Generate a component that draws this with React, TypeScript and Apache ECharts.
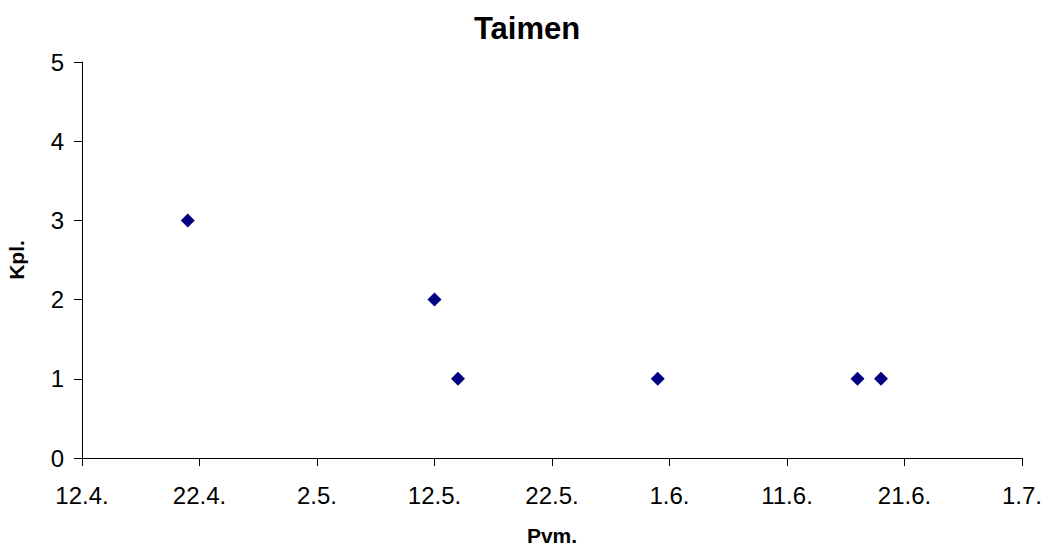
import React, { useEffect, useRef } from "react";
import * as echarts from "echarts";

// Taimen catches per date
const seasonStart = "2009-04-12";
const seasonEnd = "2009-07-01";
const catchDates = ["2009-04-21", "2009-05-12", "2009-05-14", "2009-05-31", "2009-06-17", "2009-06-19"];
const catchCounts = [3, 2, 1, 1, 1, 1];

const titleText = "Taimen";
const xName = "Pvm.";
const yName = "Kpl.";

const DAY = 86400000;
const toMs = (s: string) => {
  const [y, m, d] = s.split("-").map(Number);
  return Date.UTC(y, m - 1, d);
};
const startMs = toMs(seasonStart);
const dayOffset = (s: string) => Math.round((toMs(s) - startMs) / DAY);
const fmtDay = (v: number) => {
  const d = new Date(startMs + v * DAY);
  return `${d.getUTCDate()}.${d.getUTCMonth() + 1}.`;
};

const FONT = "'Liberation Sans', Arial, sans-serif";

export default function App() {
  const ref = useRef<HTMLDivElement>(null);

  useEffect(() => {
    if (!ref.current) return;
    const chart = echarts.init(ref.current, undefined, { renderer: "svg" });
    const points = catchDates.map((d, i) => [dayOffset(d), catchCounts[i]]);
    chart.setOption({
      animation: false,
      backgroundColor: "#ffffff",
      textStyle: { fontFamily: FONT },
      graphic: [
        {
          type: "text",
          x: 527,
          y: 28,
          style: {
            text: titleText,
            fontFamily: FONT,
            fontSize: 31,
            fontWeight: "bold",
            fill: "#000",
            align: "center",
            verticalAlign: "middle",
          },
        },
      ],
      grid: {
        left: 82,
        right: 23,
        top: 62,
        bottom: 91,
        containLabel: false,
        outerBoundsMode: "none",
      },
      xAxis: {
        type: "value",
        min: 0,
        max: dayOffset(seasonEnd),
        interval: 10,
        name: xName,
        nameLocation: "middle",
        nameGap: 67,
        nameTextStyle: { fontFamily: FONT, fontSize: 21, fontWeight: "bold", color: "#000" },
        axisLine: { show: true, lineStyle: { color: "#000", width: 1 } },
        axisTick: { show: true, inside: false, length: 8, lineStyle: { color: "#000" } },
        splitLine: { show: false },
        axisLabel: {
          formatter: (v: number) => fmtDay(v),
          fontFamily: FONT,
          fontSize: 24,
          color: "#000",
          margin: 25,
          showMinLabel: true,
          showMaxLabel: true,
        },
      },
      yAxis: {
        type: "value",
        min: 0,
        max: 5,
        interval: 1,
        name: yName,
        nameLocation: "middle",
        nameGap: 55,
        nameRotate: 90,
        nameTextStyle: { fontFamily: FONT, fontSize: 21, fontWeight: "bold", color: "#000" },
        axisLine: { show: true, lineStyle: { color: "#000", width: 1 } },
        axisTick: { show: true, inside: false, length: 8, lineStyle: { color: "#000" } },
        splitLine: { show: false },
        axisLabel: { fontFamily: FONT, fontSize: 24, color: "#000", margin: 18 },
      },
      series: [
        {
          type: "scatter",
          data: points,
          symbol: "diamond",
          symbolSize: 14,
          itemStyle: { color: "#000080", opacity: 1 },
        },
      ],
    });
    return () => chart.dispose();
  }, []);

  return (
    <div
      ref={ref}
      style={{ position: "fixed", left: 0, top: 0, width: 1045, height: 549 }}
    />
  );
}
